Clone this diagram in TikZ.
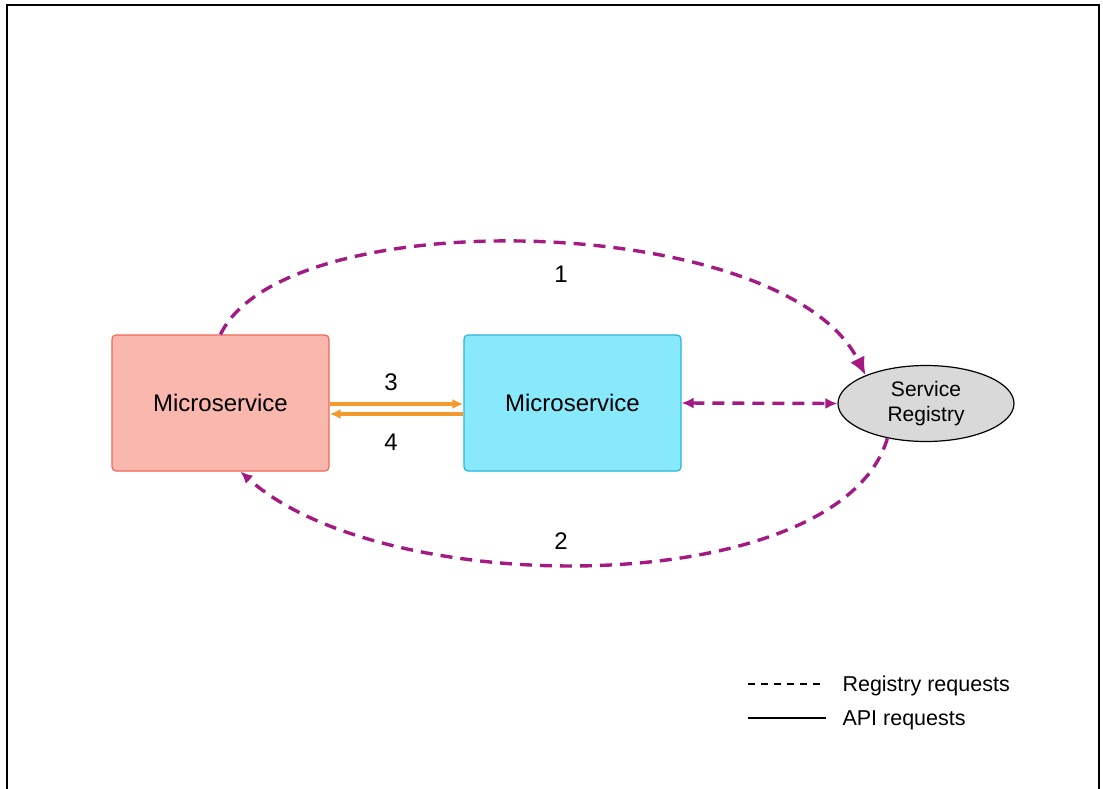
\documentclass[tikz,border=0pt]{standalone}
\usepackage{fontspec}
\setmainfont{Liberation Sans}
\usetikzlibrary{arrows.meta, shapes.geometric, positioning}

\definecolor{salmonfill}{HTML}{F9B7AE}
\definecolor{salmonline}{HTML}{EE6A55}
\definecolor{cyanfill}{HTML}{88E9FD}
\definecolor{cyanline}{HTML}{29B6D6}
\definecolor{regfill}{HTML}{D9D9D9}
\definecolor{regpurple}{HTML}{A31A82}
\definecolor{apiorange}{HTML}{F29A2E}

\begin{document}
\begin{tikzpicture}[x=1pt, y=-1pt,
		msbox/.style={draw, line width=1.2pt, rounded corners=4pt, minimum width=217pt, minimum height=136pt, font=\fontsize{24}{28}\selectfont},
		regline/.style={draw=regpurple, line width=3.4pt, dash pattern=on 12pt off 8pt},
		apiline/.style={draw=apiorange, line width=3.2pt},
		steplabel/.style={font=\fontsize{24}{28}\selectfont},
		legendtext/.style={anchor=west, font=\fontsize{21.5}{25}\selectfont}]
		\useasboundingbox (0,0) rectangle (1103,789);

		% Draw the frame
		\draw[line width=2.4pt] (7,789) -- (7,5) -- (1099,5) -- (1099,789);

		% Draw the two microservices and the registry
		\node[msbox, fill=salmonfill, draw=salmonline] (msA) at (220.5,403) {Microservice};
		\node[msbox, fill=cyanfill, draw=cyanline] (msB) at (572.5,403) {Microservice};
		\node[ellipse, draw, fill=regfill, line width=1.2pt, minimum width=176pt, minimum height=76pt, inner sep=0pt, align=center, font=\fontsize{21}{25}\selectfont] (registry) at (926,403.5) {Service\\Registry};

		% Draw the registry requests (1, 2)
		\draw[regline, -{Latex[length=18pt,width=16pt]}] (msA.north) .. controls (285,200) and (785,212) .. (registry.155);
		\draw[regline, -{Latex[length=12pt,width=11pt]}] (registry.222) .. controls (840,600) and (385,602) .. ([xshift=20pt]msA.south);
		\draw[regline, {Latex[length=12pt,width=11pt]}-{Latex[length=12pt,width=11pt]}] (msB.east) -- (registry.west);
		\node[steplabel] (lblone) at (561,274) {1};
		\node[steplabel] (lbltwo) at (561,541) {2};

		% Draw the API requests (3, 4)
		\draw[apiline, -{Latex[length=11pt,width=10pt]}] ([yshift=-1pt]msA.east) -- ([yshift=-1pt]msB.west);
		\draw[apiline, -{Latex[length=11pt,width=10pt]}] ([yshift=-11pt]msB.west) -- ([yshift=-11pt]msA.east);
		\node[steplabel] (lblthree) at (391,382) {3};
		\node[steplabel] (lblfour) at (391,442) {4};

		% Draw the legend
		\coordinate (regA) at (748,684);
		\coordinate (regB) at (826,684);
		\coordinate (apiA) at (748,718);
		\coordinate (apiB) at (826,718);
		\draw[line width=1.5pt, dash pattern=on 7pt off 6pt] (regA) -- (regB);
		\draw[line width=1.5pt] (apiA) -- (apiB);
		\node[legendtext] (regtext) at (839,686) {Registry requests};
		\node[legendtext] (apitext) at (839,720) {API requests};
\end{tikzpicture}
\end{document}
